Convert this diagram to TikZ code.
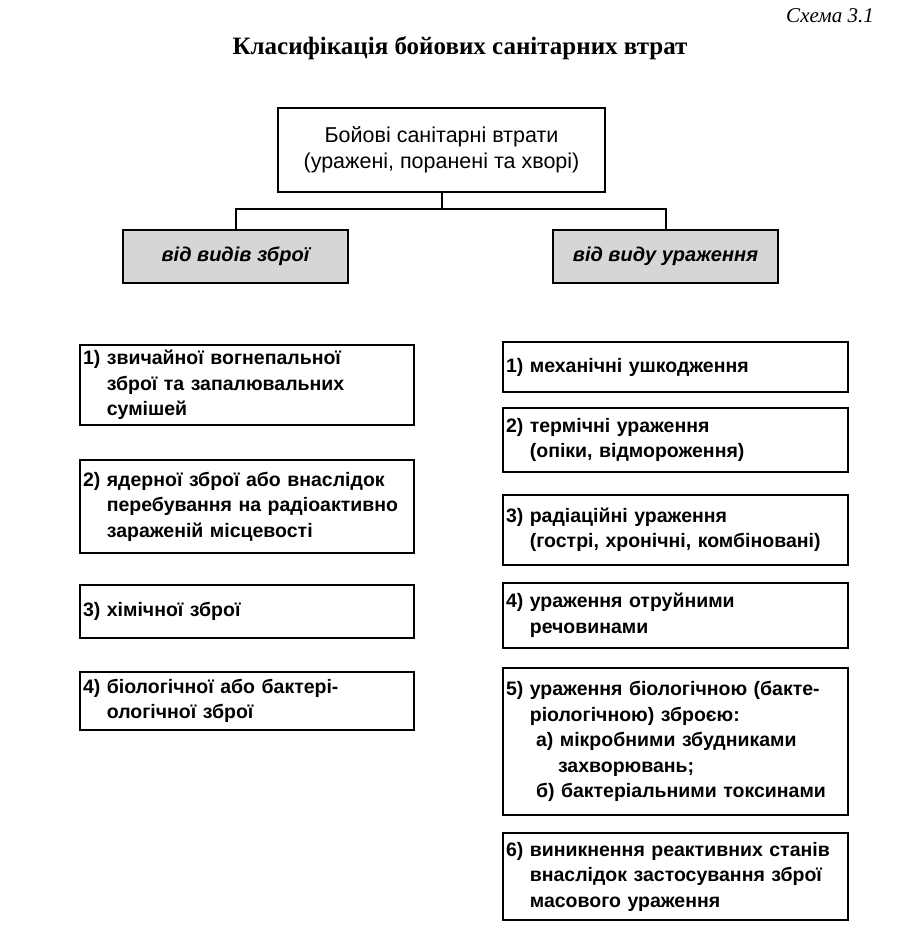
\documentclass[tikz,border=0pt]{standalone}
\usepackage{fontspec}
\setmainfont{Liberation Serif}
\setsansfont{Liberation Sans}
\usepackage{tikz}
\usetikzlibrary{positioning, calc}
\definecolor{shadecolor}{RGB}{214,214,214}

\newcommand{\numgap}{\hphantom{1) }}

\begin{document}
\begin{tikzpicture}[
    x=1pt, y=-1pt,
    cat/.style={draw, line width=2.4pt, minimum width=327pt, minimum height=84pt, font=\sffamily\fontsize{21.5}{26}\selectfont, align=center},
    group/.style={draw, line width=2.4pt, fill=shadecolor, minimum width=225pt, minimum height=53pt, font=\sffamily\bfseries\itshape\fontsize{20}{24}\selectfont},
    item/.style={draw, line width=2.4pt, inner xsep=3pt, align=left, font=\sffamily\bfseries\fontsize{19.5}{25.5}\selectfont},
    litem/.style={item, minimum width=334pt, text width=328pt},
    ritem/.style={item, minimum width=345pt, text width=339pt},
    link/.style={line width=2pt}
]
    \useasboundingbox (0,0) rectangle (901,940);

    \node[font=\itshape\fontsize{21}{24}\selectfont] (scheme) at (830,16) {Схема 3.1};
    \node[font=\bfseries\fontsize{25}{28}\selectfont] (title) at (460,48) {Класифікація бойових санітарних втрат};

    \node[cat] (loss) at (441.5,150) {Бойові санітарні втрати\\(уражені, поранені та хворі)};

    \node[group] (weapon) at (235.5,256.5) {від видів зброї};
    \node[group] (injury) at (665.5,256.5) {від виду ураження};

    % left column
    \node[litem, minimum height=80pt] (w1) at (247,385) {1) звичайної вогнепальної\\\numgap зброї та запалювальних\\\numgap сумішей};
    \node[litem, minimum height=93pt] (w2) at (247,506.5) {2) ядерної зброї або внаслідок\\\numgap перебування на радіоактивно\\\numgap зараженій місцевості};
    \node[litem, minimum height=53pt] (w3) at (247,611.5) {3) хімічної зброї};
    \node[litem, minimum height=58pt] (w4) at (247,701) {4) біологічної або бактері-\\\numgap ологічної зброї};

    % right column
    \node[ritem, minimum height=50pt] (i1) at (675.5,367) {1) механічні ушкодження};
    \node[ritem, minimum height=64pt] (i2) at (675.5,440) {2) термічні ураження\\\numgap (опіки, відмороження)};
    \node[ritem, minimum height=70pt] (i3) at (675.5,530) {3) радіаційні ураження\\\numgap (гострі, хронічні, комбіновані)};
    \node[ritem, minimum height=65pt] (i4) at (675.5,615.5) {4) ураження отруйними\\\numgap речовинами};
    \node[ritem, minimum height=147pt] (i5) at (675.5,741.5) {5) ураження біологічною (бакте-\\\numgap ріологічною) зброєю:\\\hspace*{30pt}а) мікробними збудниками\\\hspace*{52pt}захворювань;\\\hspace*{30pt}б) бактеріальними токсинами};
    \node[ritem, minimum height=87pt] (i6) at (675.5,876.5) {6) виникнення реактивних станів\\\numgap внаслідок застосування зброї\\\numgap масового ураження};

    \draw[link] (loss.south) -- ++(0,16) coordinate (split);
    \draw[link] (split) -| (weapon.north);
    \draw[link] (split) -| (injury.north);
\end{tikzpicture}
\end{document}
